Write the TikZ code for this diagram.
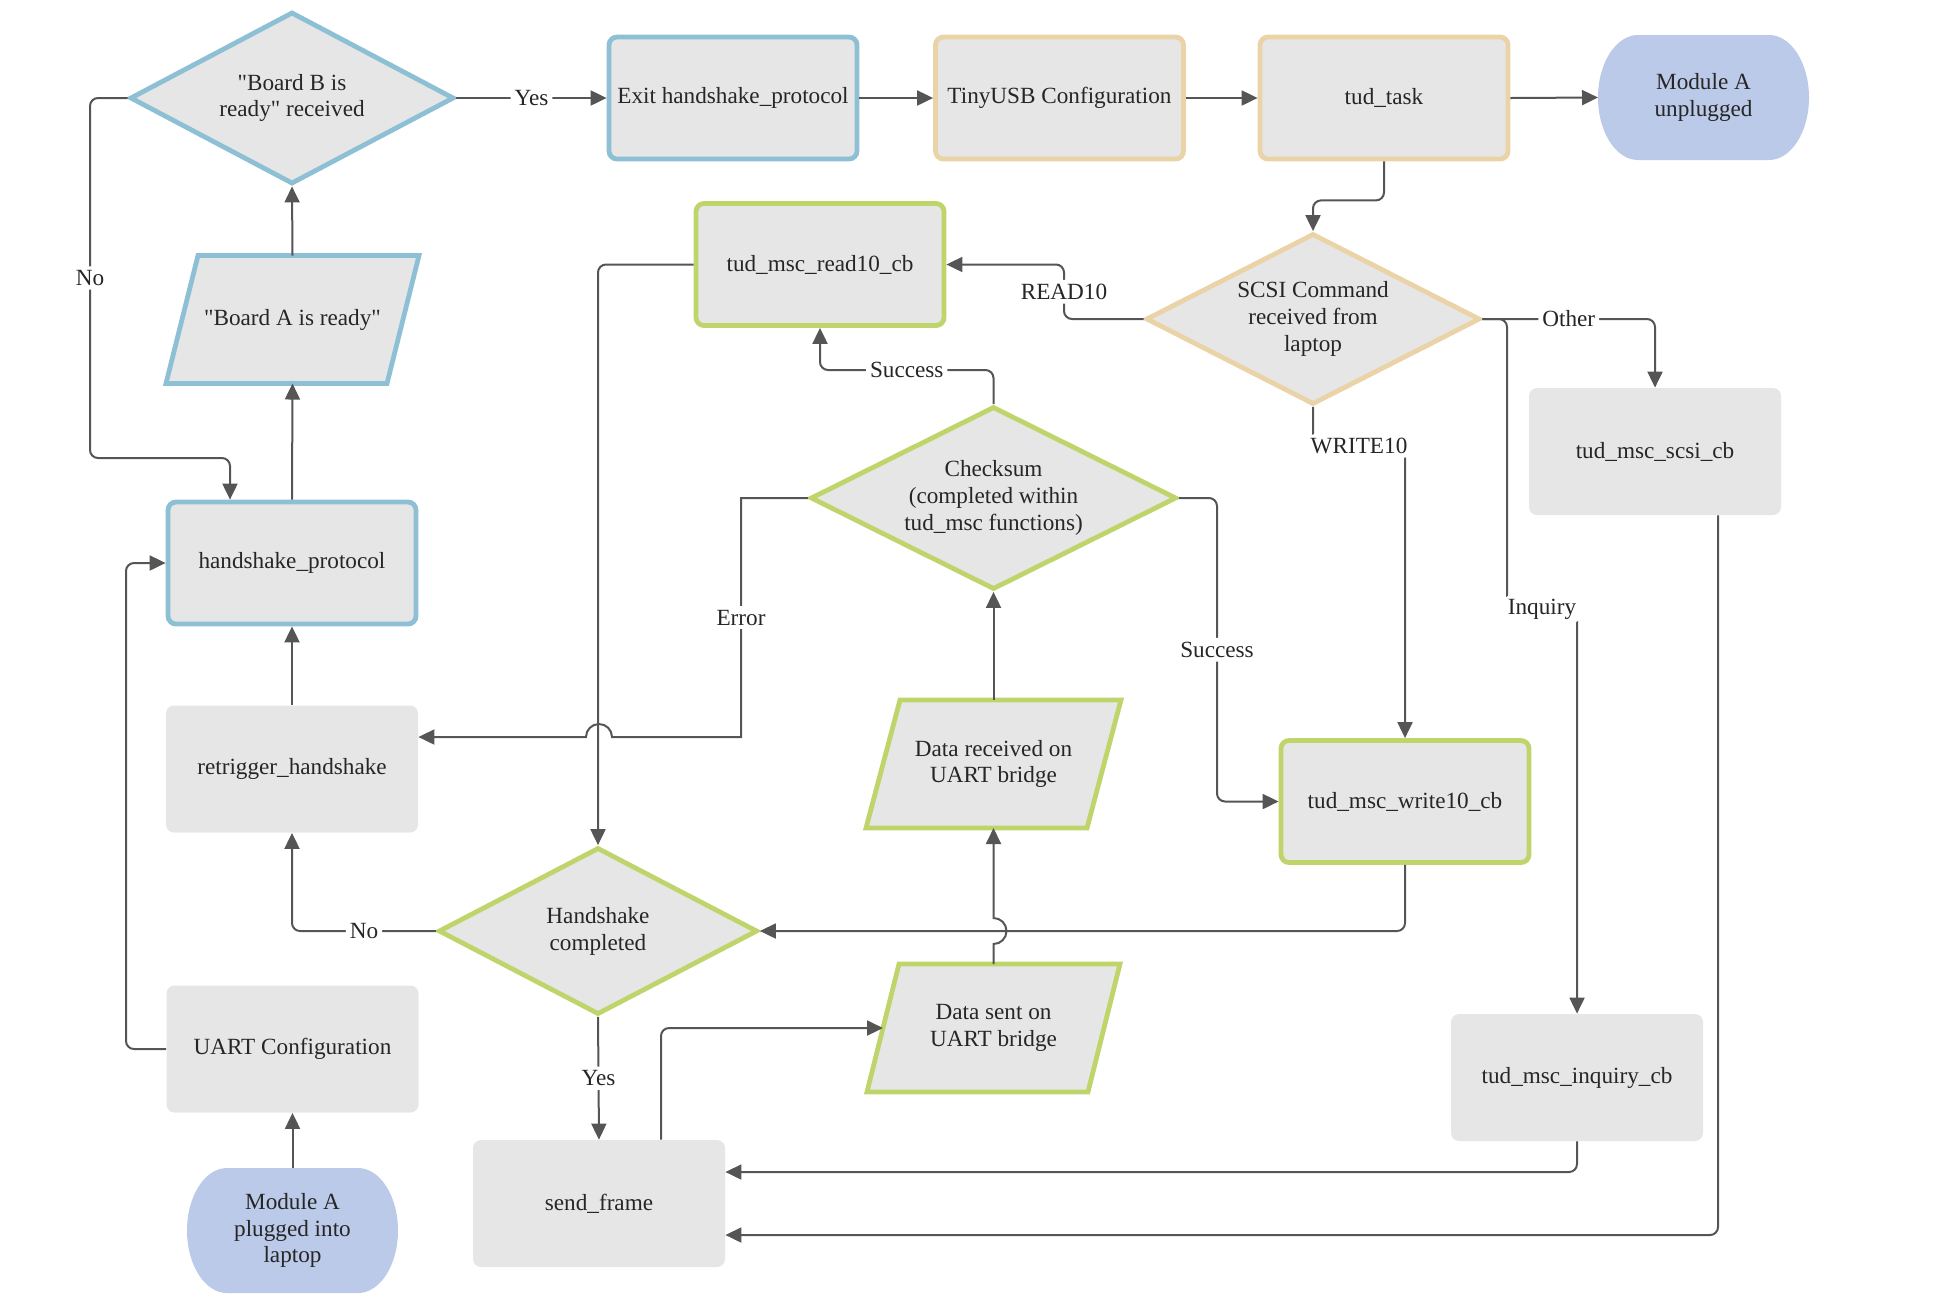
\documentclass[tikz,border=0pt]{standalone}
\usepackage{fontspec}
% plain family: keeps the straight double quote as typed
\newfontfamily\chartfont{Liberation Serif}
\usetikzlibrary{shapes.geometric,arrows.meta,calc}
\pgfdeclarelayer{background}
\pgfsetlayers{background,main}

\definecolor{boxfill}{HTML}{E6E6E6}
\definecolor{blueedge}{HTML}{8DC0D4}
\definecolor{tanedge}{HTML}{EBD3A8}
\definecolor{greenedge}{HTML}{BFD56C}
\definecolor{termfill}{HTML}{BBCAE8}
\definecolor{wire}{HTML}{555555}
\definecolor{ink}{HTML}{262626}

\begin{document}
\begin{tikzpicture}[
  x=0.5pt, y=-0.5pt,
  every node/.style={font=\chartfont\fontsize{11.6}{13.4}\selectfont, text=ink},
  proc/.style={rectangle, rounded corners=4pt, fill=boxfill, align=center,
    minimum width=126pt, minimum height=63.5pt, inner sep=2pt},
  edged/.style={proc, line width=2.4pt, minimum width=124pt, minimum height=61pt},
  blueproc/.style={edged, draw=blueedge},
  tanproc/.style={edged, draw=tanedge},
  greenproc/.style={edged, draw=greenedge},
  decision/.style={diamond, fill=boxfill, align=center, line width=2.4pt,
    inner sep=0pt, shape aspect=2},
  iobox/.style={rectangle, align=center, minimum width=110.5pt,
    minimum height=64pt, inner sep=0pt, outer sep=0pt},
  ioshape/.style={fill=boxfill, line width=2.4pt, line join=miter},
  terminal/.style={rectangle, align=center, minimum width=105.5pt,
    minimum height=62.5pt, inner sep=0pt, outer sep=0pt},
  flow/.style={draw=wire, line width=1pt, rounded corners=4pt,
    -{Triangle[length=8pt,width=7.5pt]}},
  tag/.style={fill=white, inner sep=2pt},
]
\useasboundingbox (0,0) rectangle (1952,1314);

% ---------- handshake column ----------
\node[decision, draw=blueedge, minimum width=162pt, minimum height=86pt]
  (boardb) at (292,98) {"Board B is\\ready" received};
\node[iobox] (boarda) at (292.5,319.5) {"Board A is ready"};
\node[blueproc] (hsproto) at (292,563) {handshake\_protocol};
\node[proc] (retrig) at (292,769) {retrigger\_handshake};
\node[proc] (uartcfg) at (292.5,1049) {UART Configuration};
\node[terminal] (plugged) at (292.5,1230.5) {Module A\\plugged into\\laptop};

% ---------- top row ----------
\node[blueproc] (exit) at (733,98) {Exit handshake\_protocol};
\node[tanproc] (tinyusb) at (1059.5,98) {TinyUSB Configuration};
\node[tanproc] (tudtask) at (1384,98) {tud\_task};
\node[terminal] (unplugged) at (1703.5,97.5) {Module A\\unplugged};

% ---------- USB mass storage ----------
\node[greenproc] (read10) at (820,264.5) {tud\_msc\_read10\_cb};
\node[decision, draw=tanedge, minimum width=167pt, minimum height=85.5pt]
  (scsi) at (1313,319) {SCSI Command\\received from\\laptop};
\node[proc] (scsicb) at (1655,451.5) {tud\_msc\_scsi\_cb};
\node[decision, draw=greenedge, minimum width=183pt, minimum height=91.5pt]
  (checksum) at (993.5,498) {Checksum\\(completed within\\tud\_msc functions)};
\node[iobox] (datarx) at (993.5,764) {Data received on\\UART bridge};
\node[greenproc] (write10) at (1405,801.5) {tud\_msc\_write10\_cb};
\node[decision, draw=greenedge, minimum width=159.5pt, minimum height=83.5pt]
  (hsdone) at (598,931) {Handshake\\completed};
\node[iobox] (datatx) at (993.5,1028) {Data sent on\\UART bridge};
\node[proc] (sendframe) at (599,1203.5) {send\_frame};
\node[proc] (inquiry) at (1577,1077.5) {tud\_msc\_inquiry\_cb};

% ---------- outlines of the I/O and terminal shapes ----------
\begin{pgfonlayer}{background}
  \draw[ioshape, draw=blueedge]
    ($(boarda.north west)+(16,0)$) -- ($(boarda.north east)+(16,0)$)
    -- ($(boarda.south east)+(-16,0)$) -- ($(boarda.south west)+(-16,0)$) -- cycle;
  \draw[ioshape, draw=greenedge]
    ($(datarx.north west)+(17,0)$) -- ($(datarx.north east)+(17,0)$)
    -- ($(datarx.south east)+(-17,0)$) -- ($(datarx.south west)+(-17,0)$) -- cycle;
  \draw[ioshape, draw=greenedge]
    ($(datatx.north west)+(16,0)$) -- ($(datatx.north east)+(16,0)$)
    -- ($(datatx.south east)+(-16,0)$) -- ($(datatx.south west)+(-16,0)$) -- cycle;
  \fill[termfill]
    ($(unplugged.north west)+(40,0)$) -- ($(unplugged.north east)+(-40,0)$)
    arc[start angle=90, end angle=-90, x radius=20pt, y radius=31.25pt]
    -- ($(unplugged.south west)+(40,0)$)
    arc[start angle=270, end angle=90, x radius=20pt, y radius=31.25pt] -- cycle;
  \fill[termfill]
    ($(plugged.north west)+(40,0)$) -- ($(plugged.north east)+(-40,0)$)
    arc[start angle=90, end angle=-90, x radius=20pt, y radius=31.25pt]
    -- ($(plugged.south west)+(40,0)$)
    arc[start angle=270, end angle=90, x radius=20pt, y radius=31.25pt] -- cycle;
\end{pgfonlayer}

% ---------- connectors ----------
\draw[flow] (boardb.east) -- node[tag]{Yes} (exit.west);
\draw[flow] (exit.east) -- (tinyusb.west);
\draw[flow] (tinyusb.east) -- (tudtask.west);
\draw[flow] (tudtask.east) -- (unplugged.west);
\draw[flow] (tudtask.south) -- ++(0,39) -| (scsi.north);

\draw[flow] (scsi.west) -- (1064,319) |- node[tag,pos=0.25]{READ10} (read10.east);
\draw[flow] (scsi.east) -| node[tag,pos=0.25]{Other} (scsicb.north);
\draw[flow] (scsi.east) -- (1507,319) -- (1507,609)
  -- node[tag]{Inquiry} (1577,609) -- (inquiry.north);
\draw[flow] (scsi.south) -- (1313,446) -- node[tag]{WRITE10} (1405,446)
  -- (write10.north);

\draw[flow] (read10.west) -| (hsdone.north);
\draw[flow] (checksum.north) -- (993.5,370) -| node[tag,pos=0.25]{Success} (read10.south);
\draw[flow, sharp corners] (checksum.west) -| node[tag,pos=0.75]{Error} (741,737)
  -- (612,737) arc[start angle=0, end angle=180, radius=6.5pt]
  -- ($(retrig.east)+(0,-32)$);
\draw[flow] (checksum.east) -| node[tag,pos=0.75]{Success} (1217,801.5)
  -- (write10.west);
\draw[flow] (datarx.north) -- (checksum.south);
\draw[flow, sharp corners] (datatx.north) -- (993.5,944)
  arc[start angle=-90, end angle=90, radius=6.5pt] -- (datarx.south);
\draw[flow] (write10.south) |- (hsdone.east);

\draw[flow] (hsdone.west) -| node[tag,pos=0.25]{No} (retrig.south);
\draw[flow] (hsdone.south) -- node[tag]{Yes} (sendframe.north);
\draw[flow] ($(sendframe.north)+(62,0)$) |- (datatx.west);
\draw[flow] (inquiry.south) |- ($(sendframe.east)+(0,-31.5)$);
\draw[flow] ($(scsicb.south)+(63,0)$) |- ($(sendframe.east)+(0,31.5)$);

\draw[flow] (retrig.north) -- (hsproto.south);
\draw[flow] (hsproto.north) -- (boarda.south);
\draw[flow] (boarda.north) -- (boardb.south);
\draw[flow] (boardb.west) -| node[tag,pos=0.75]{No} (90,458)
  -| ($(hsproto.north)+(-62,0)$);
\draw[flow] (uartcfg.west) -- (126,1049) |- (hsproto.west);
\draw[flow] (plugged.north) -- (uartcfg.south);
\end{tikzpicture}
\end{document}
